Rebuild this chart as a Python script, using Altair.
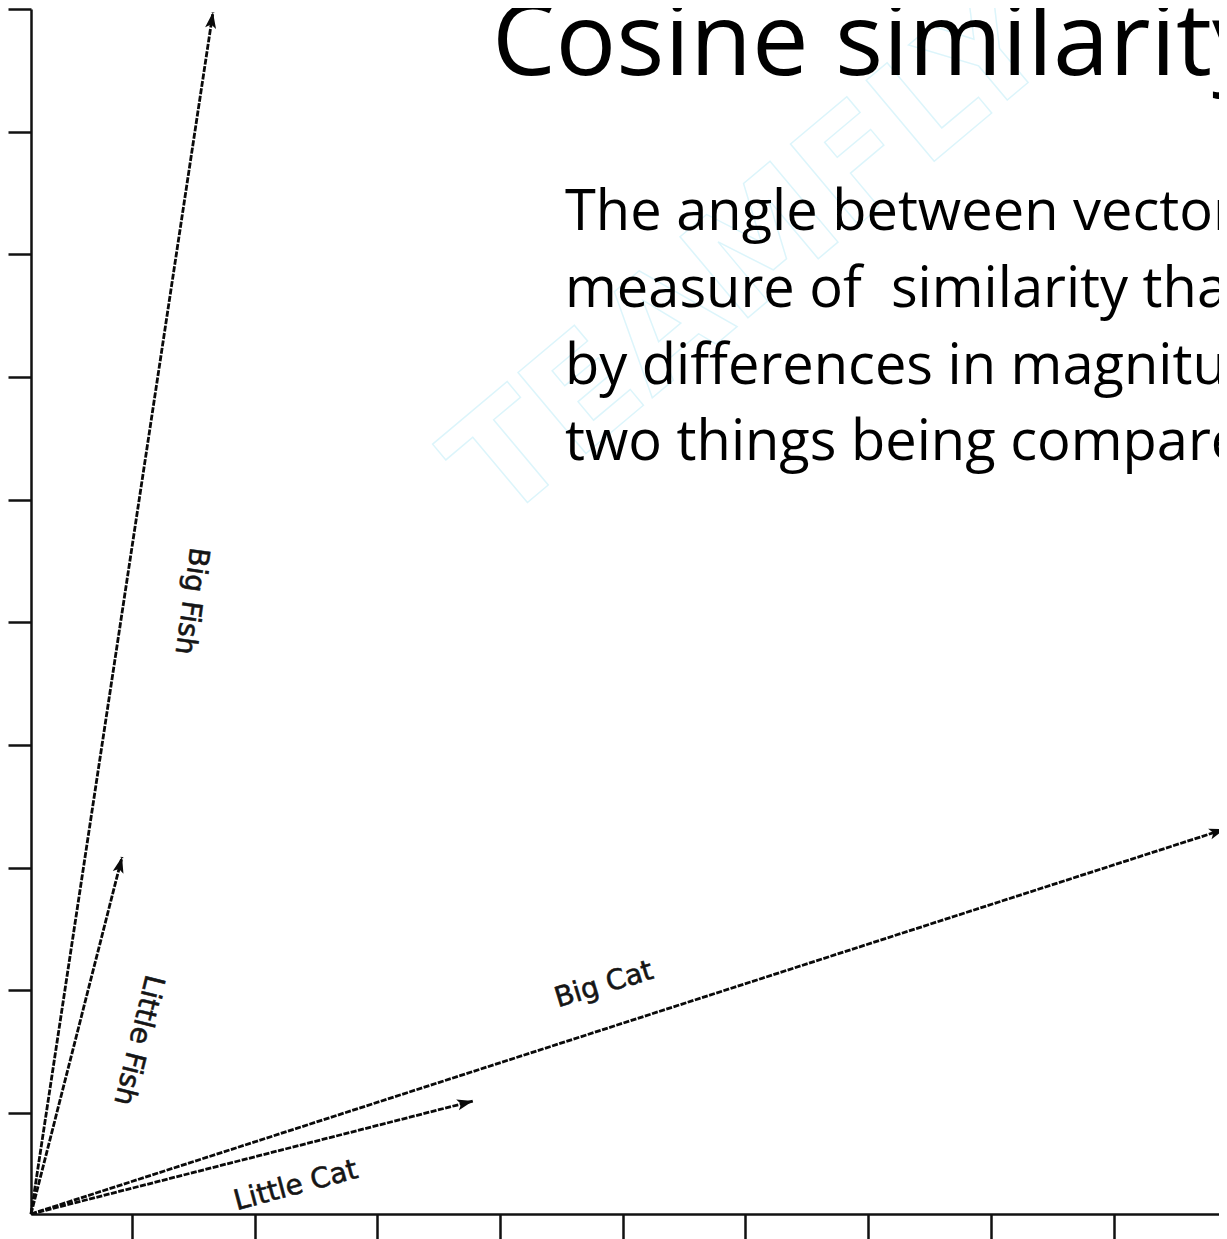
import altair as alt
import numpy as np
import pandas as pd

# ---- data (units: one axis tick spacing = 1) ----
vec_names = ["Big Fish", "Little Fish", "Big Cat", "Little Cat"]
tip_x = [1.483, 0.742, 9.731, 3.602]
tip_y = [9.796, 2.910, 3.138, 0.921]
label_x = [1.304, 0.872, 4.670, 2.160]
label_y = [4.996, 1.418, 1.866, 0.228]
label_angle = [98, 104, 343, 345]

x_ticks = [0.823, 1.823, 2.823, 3.823, 4.823, 5.823, 6.823, 7.823, 8.823]
y_ticks = [0.823, 1.823, 2.823, 3.823, 4.823, 5.823, 6.823, 7.823, 8.823, 9.823]

title_text = ["Cosine similarity"]
title_x = [3.757]
title_y = [9.283]

para_lines = [
    "The angle between vectors is a",
    "measure of\u00a0 similarity that is not affected",
    "by differences in magnitude of the",
    "two things being compared.",
]
para_x = [4.352, 4.352, 4.352, 4.352]
para_y = [8.020, 7.390, 6.770, 6.145]

watermark_text = ["TEAMFLY"]
watermark_x = [6.096]
watermark_y = [7.520]

X_MAX = 9.682
Y_MAX = 9.823
PLOT_W = 1188
PLOT_H = 1205

vec_df = pd.DataFrame({
    "name": vec_names,
    "x0": [0.0] * len(vec_names),
    "y0": [0.0] * len(vec_names),
    "tip_x": tip_x,
    "tip_y": tip_y,
    "label_x": label_x,
    "label_y": label_y,
    "label_angle": label_angle,
})
vec_df["head_angle"] = np.degrees(np.arctan2(vec_df["tip_x"], vec_df["tip_y"]))

title_df = pd.DataFrame({"text": title_text, "x": title_x, "y": title_y})
para_df = pd.DataFrame({"text": para_lines, "x": para_x, "y": para_y})
wm_df = pd.DataFrame({"text": watermark_text, "x": watermark_x, "y": watermark_y})

axis_color = "#111111"
x_scale = alt.Scale(domain=[0, X_MAX], nice=False, zero=False)
y_scale = alt.Scale(domain=[0, Y_MAX], nice=False, zero=False)
x_axis = alt.Axis(values=x_ticks, labels=False, ticks=True, tickSize=25, tickWidth=2.5,
                  tickColor=axis_color, domainColor=axis_color, domainWidth=2.5,
                  grid=False, title="")
y_axis = alt.Axis(values=y_ticks, labels=False, ticks=True, tickSize=23, tickWidth=2.5,
                  tickColor=axis_color, domainColor=axis_color, domainWidth=2.5,
                  grid=False, title="")


def X(field):
    return alt.X(field, type="quantitative", scale=x_scale, axis=x_axis)


def Y(field):
    return alt.Y(field, type="quantitative", scale=y_scale, axis=y_axis)


watermark = alt.Chart(wm_df).mark_text(
    font="DejaVu Sans", fontWeight="bold", fontSize=145, align="center",
    baseline="alphabetic", angle=320, fillOpacity=0, stroke="#dcf5fb", strokeWidth=1.4,
).encode(x=X("x"), y=Y("y"), text="text:N")

rules = alt.Chart(vec_df).mark_rule(
    color="#0a0a0a", strokeWidth=2.8, strokeDash=[6, 1.5]
).encode(x=X("x0"), y=Y("y0"), x2="tip_x:Q", y2="tip_y:Q")

arrow_path = "M0,0L-0.45,1.3L0,1.0L0.45,1.3Z"
heads = alt.Chart(vec_df).mark_point(
    shape=arrow_path, filled=True, size=600, color="#0a0a0a", opacity=1
).encode(x=X("tip_x"), y=Y("tip_y"), angle=alt.Angle("head_angle:Q", scale=None))

labels = alt.Chart(vec_df).mark_text(
    font="DejaVu Sans", fontSize=28, color="#151515", align="center", baseline="middle",
    stroke="#151515", strokeWidth=0.6,
).encode(x=X("label_x"), y=Y("label_y"), text="name:N",
         angle=alt.Angle("label_angle:Q", scale=None))

title = alt.Chart(title_df).mark_text(
    font="Open Sans", fontSize=101, color="#000000", align="left", baseline="alphabetic"
).encode(x=X("x"), y=Y("y"), text="text:N")

para = alt.Chart(para_df).mark_text(
    font="Open Sans", fontSize=56, color="#000000", align="left", baseline="alphabetic"
).encode(x=X("x"), y=Y("y"), text="text:N")

chart = alt.layer(watermark, rules, heads, labels, title, para).properties(
    width=PLOT_W,
    height=PLOT_H,
    autosize=alt.AutoSizeParams(type="none"),
    padding={"left": 23, "top": 1, "right": 0, "bottom": 25},
    background="white",
).configure_view(strokeWidth=0)

chart.save("out.html", embed_options={"renderer": "svg", "actions": False})
